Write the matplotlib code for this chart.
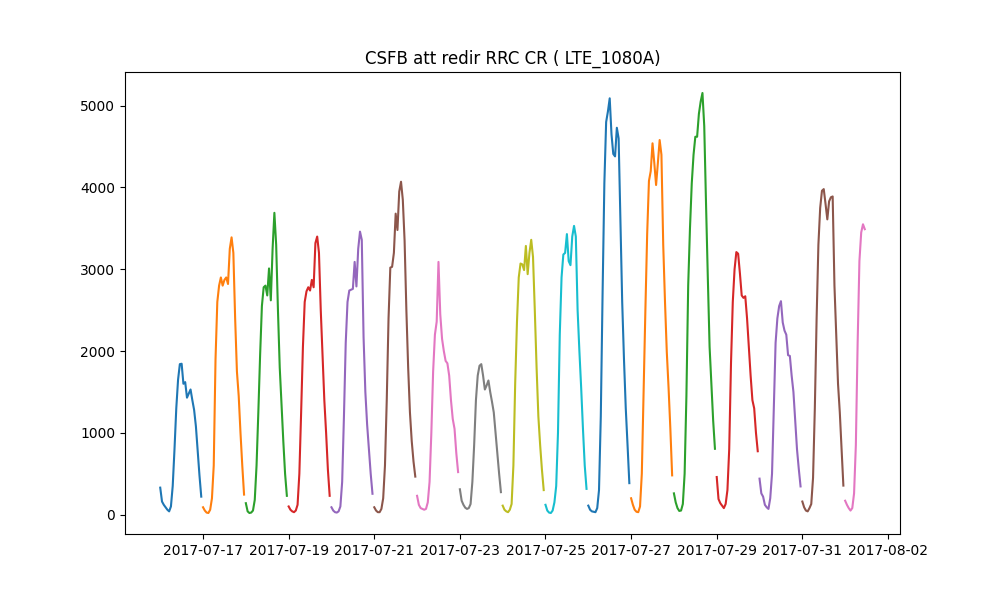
import matplotlib
matplotlib.use("Agg")
import matplotlib.pyplot as plt
import matplotlib.dates as mdates
import pandas as pd

title = "CSFB att redir RRC CR ( LTE_1080A)"

day_starts = ["2017-07-16", "2017-07-17", "2017-07-18", "2017-07-19", "2017-07-20",
              "2017-07-21", "2017-07-22", "2017-07-23", "2017-07-24", "2017-07-25",
              "2017-07-26", "2017-07-27", "2017-07-28", "2017-07-29", "2017-07-30",
              "2017-07-31", "2017-08-01"]

tick_dates = ["2017-07-17", "2017-07-19", "2017-07-21", "2017-07-23", "2017-07-25",
              "2017-07-27", "2017-07-29", "2017-07-31", "2017-08-02"]

d0716 = [330, 160, 120, 90, 60, 40, 100, 350, 800, 1300, 1650, 1840, 1845, 1600, 1620, 1430,
         1480, 1530, 1400, 1280, 1080, 780, 480, 220]
d0717 = [90, 50, 25, 20, 60, 200, 600, 1900, 2600, 2800, 2900, 2800, 2870, 2900, 2820, 3250,
         3390, 3200, 2400, 1750, 1450, 1000, 600, 245]
d0718 = [140, 40, 20, 25, 50, 180, 600, 1250, 1950, 2550, 2780, 2800, 2680, 3010, 2620, 3250,
         3690, 3300, 2500, 1800, 1350, 900, 500, 230]
d0719 = [100, 60, 40, 30, 50, 120, 500, 1250, 2050, 2600, 2730, 2780, 2740, 2870, 2780, 3320,
         3400, 3200, 2500, 1950, 1400, 1000, 550, 230]
d0720 = [90, 50, 30, 25, 40, 100, 400, 1200, 2100, 2600, 2740, 2750, 2760, 3090, 2790, 3250,
         3460, 3360, 2170, 1500, 1100, 800, 500, 255]
d0721 = [90, 50, 30, 30, 70, 200, 600, 1400, 2400, 3020, 3030, 3200, 3680, 3480, 3950, 4070,
         3850, 3350, 2500, 1800, 1250, 900, 650, 465]
d0722 = [230, 120, 80, 70, 60, 70, 150, 400, 1000, 1750, 2200, 2360, 3090, 2450, 2150, 2000,
         1880, 1850, 1700, 1400, 1170, 1050, 750, 520]
d0723 = [310, 170, 120, 85, 70, 80, 130, 400, 850, 1400, 1700, 1820, 1840, 1700, 1530, 1580,
         1640, 1500, 1380, 1250, 1000, 750, 500, 275]
d0724 = [110, 60, 40, 30, 60, 130, 600, 1600, 2350, 2900, 3070, 3060, 2990, 3285, 2940, 3200,
         3360, 3150, 2500, 1800, 1200, 850, 550, 300]
d0725 = [120, 50, 25, 20, 50, 150, 350, 1000, 2200, 2900, 3180, 3200, 3430, 3100, 3050, 3400,
         3530, 3400, 2500, 2000, 1550, 1050, 600, 315]
d0726 = [110, 60, 40, 35, 30, 80, 300, 1200, 2700, 4050, 4800, 4930, 5090, 4650, 4410, 4380,
         4730, 4600, 3600, 2600, 1900, 1300, 850, 385]
d0727 = [200, 120, 60, 35, 30, 100, 500, 1500, 2500, 3430, 4080, 4200, 4540, 4300, 4030, 4300,
         4580, 4400, 3300, 2600, 1990, 1550, 1050, 480]
d0728 = [260, 150, 80, 45, 50, 130, 500, 1450, 2800, 3500, 4050, 4400, 4620, 4620, 4900, 5050,
         5155, 4750, 3800, 2900, 2050, 1600, 1150, 805]
d0729 = [460, 190, 140, 110, 80, 130, 300, 800, 1850, 2600, 3000, 3210, 3190, 2950, 2680, 2650,
         2670, 2400, 2050, 1700, 1400, 1300, 1000, 775]
d0730 = [440, 260, 220, 120, 90, 70, 200, 500, 1300, 2100, 2400, 2550, 2610, 2350, 2250, 2200,
         1950, 1940, 1700, 1500, 1150, 800, 560, 345]
d0731 = [160, 90, 50, 40, 80, 130, 450, 1300, 2400, 3300, 3750, 3960, 3980, 3800, 3610, 3830,
         3880, 3890, 2800, 2200, 1600, 1250, 800, 355]
d0801 = [170, 120, 80, 50, 80, 260, 850, 2100, 3100, 3450, 3550, 3490]

daily_values = [d0716, d0717, d0718, d0719, d0720, d0721, d0722, d0723, d0724, d0725,
                d0726, d0727, d0728, d0729, d0730, d0731, d0801]

fig, ax = plt.subplots(figsize=(10, 6), dpi=100)
for start, vals in zip(day_starts, daily_values):
    times = pd.date_range(start, periods=len(vals), freq="h")
    ax.plot(times.to_pydatetime(), vals)

ax.set_xticks(pd.to_datetime(tick_dates).to_pydatetime())
ax.xaxis.set_major_formatter(mdates.DateFormatter("%Y-%m-%d"))
ax.set_title(title)
fig.savefig("out.png", dpi=100)
